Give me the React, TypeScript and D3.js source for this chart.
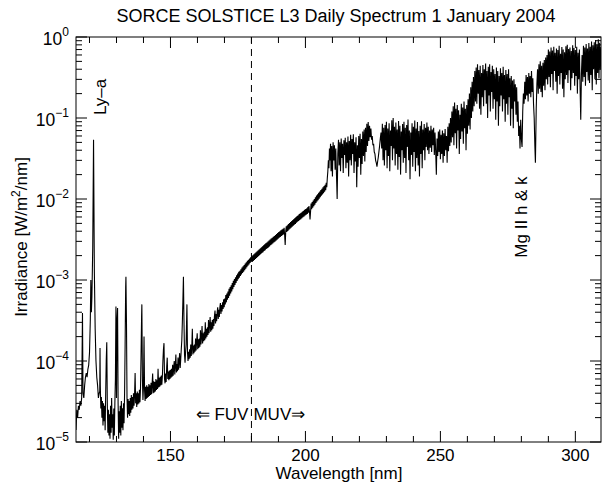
import React from "react";
import * as d3 from "d3";

const titleText = "SORCE SOLSTICE L3 Daily Spectrum 1 January 2004";
const xTicksMajor = [150, 200, 250, 300];
const yDecades = [0, -1, -2, -3, -4, -5];
const boundaryNm = 180;

// [wavelength nm, irradiance W/m^2/nm]
const lyAlphaRegion: [number, number][] = [
  [115.0, 1.41e-5], [115.3, 2.5e-5], [115.6, 2.0e-5], [115.9, 2.8e-5], [116.2, 2.5e-5], [116.5, 3.2e-5],
  [116.8, 2.8e-5], [117.1, 3.5e-5], [117.4, 3.9e-4], [117.6, 4.0e-5], [117.9, 3.5e-5], [118.2, 5.0e-5],
  [118.5, 6.3e-5], [118.8, 7.1e-5], [119.1, 6.3e-5], [119.4, 7.9e-5], [119.7, 8.9e-5], [120.0, 1.26e-4],
  [120.3, 3.2e-4], [120.5, 1.0e-3], [120.7, 4.0e-4], [120.9, 6.3e-4], [121.2, 2.5e-3], [121.5, 5.4e-2],
  [121.8, 1.26e-3], [122.1, 2.5e-4], [122.4, 1.0e-4], [122.7, 6.3e-5], [123.0, 5.0e-5], [123.3, 3.5e-5],
  [123.6, 4.0e-5], [123.8, 4.2e-5], [123.9, 1.45e-4], [124.0, 5.0e-5], [124.2, 2.6e-5], [124.4, 3.6e-5],
  [124.6, 2.0e-5], [124.8, 3.2e-5], [125.0, 1.6e-5], [125.2, 3.0e-5], [125.4, 1.8e-5], [125.6, 2.8e-5],
  [125.8, 1.4e-5], [126.0, 4.0e-5], [126.2, 1.0e-4], [126.4, 1.7e-4], [126.6, 3.0e-5], [126.8, 1.3e-5],
  [127.0, 2.5e-5], [127.2, 1.2e-5], [127.4, 2.2e-5], [127.6, 1.1e-5], [127.8, 2.8e-5], [128.0, 1.3e-5],
  [128.2, 3.5e-5], [128.4, 1.5e-5], [128.6, 2.2e-5], [128.8, 1.07e-5], [129.0, 2.6e-5], [129.2, 1.2e-5],
  [129.4, 3.0e-5], [129.6, 6.0e-5], [129.8, 4.7e-4], [130.0, 3.5e-5], [130.2, 3.2e-4], [130.4, 4.5e-4],
  [130.6, 3.0e-5], [130.8, 1.1e-5], [131.0, 2.4e-5], [131.2, 1.3e-5], [131.4, 2.8e-5], [131.6, 1.2e-5],
  [131.8, 3.2e-5], [132.0, 1.5e-5], [132.2, 2.6e-5], [132.4, 1.4e-5], [132.6, 3.0e-5], [132.8, 1.7e-5],
  [133.0, 4.0e-5], [133.2, 1.6e-4], [133.4, 8.0e-4], [133.5, 1.1e-3], [133.7, 3.0e-4], [133.9, 3.5e-5],
];

const fuvSpectrum: [number, number][] = [
  [134.1, 2.0e-5], [134.3, 3.4e-5], [134.5, 2.2e-5], [134.7, 3.2e-5], [134.9, 2.1e-5], [135.1, 3.5e-5],
  [135.3, 2.3e-5], [135.5, 3.8e-5], [135.7, 2.5e-5], [135.9, 3.6e-5], [136.1, 2.6e-5], [136.3, 4.0e-5],
  [136.5, 2.8e-5], [136.7, 3.8e-5], [136.9, 7.1e-5], [137.1, 3.0e-5], [137.3, 4.0e-5], [137.5, 2.7e-5],
  [137.7, 4.2e-5], [137.9, 2.9e-5], [138.1, 4.0e-5], [138.3, 3.0e-5], [138.5, 4.4e-5], [138.7, 3.1e-5],
  [138.9, 4.6e-5], [139.1, 1.2e-4], [139.3, 3.5e-4], [139.4, 5.0e-4], [139.6, 6.0e-5], [139.8, 3.3e-5],
  [140.0, 4.8e-5], [140.2, 2.0e-4], [140.4, 4.4e-5], [140.6, 3.2e-5], [140.8, 4.8e-5], [141.0, 3.4e-5],
  [141.2, 5.0e-5], [141.4, 3.5e-5], [141.6, 4.8e-5], [141.8, 3.6e-5], [142.0, 5.2e-5], [142.2, 3.7e-5],
  [142.4, 5.0e-5], [142.6, 3.8e-5], [142.8, 5.4e-5], [143.0, 3.9e-5], [143.2, 5.2e-5], [143.4, 7.0e-5],
  [143.6, 4.0e-5], [143.8, 5.6e-5], [144.0, 4.1e-5], [144.2, 5.5e-5], [144.4, 4.2e-5], [144.6, 6.0e-5],
  [144.8, 4.4e-5], [145.0, 5.8e-5], [145.2, 4.5e-5], [145.4, 8.0e-5], [145.6, 4.7e-5], [145.8, 6.2e-5],
  [146.0, 4.8e-5], [146.2, 6.4e-5], [146.4, 5.0e-5], [146.6, 6.6e-5], [146.8, 5.1e-5], [147.0, 6.5e-5],
  [147.2, 1.0e-4], [147.4, 1.4e-4], [147.6, 1.66e-4], [147.8, 6.0e-5], [148.0, 5.3e-5], [148.2, 7.0e-5],
  [148.4, 5.5e-5], [148.6, 8.5e-5], [148.8, 1.1e-4], [149.0, 6.0e-5], [149.2, 7.4e-5], [149.4, 5.8e-5],
  [149.6, 7.6e-5], [149.8, 6.0e-5], [150.0, 7.8e-5], [150.2, 6.2e-5], [150.4, 8.0e-5], [150.6, 6.4e-5],
  [150.8, 9.0e-5], [151.0, 6.6e-5], [151.2, 8.4e-5], [151.4, 1.0e-4], [151.6, 6.8e-5], [151.8, 8.8e-5],
  [152.0, 1.2e-4], [152.2, 7.2e-5], [152.4, 9.2e-5], [152.6, 7.5e-5], [152.8, 1.1e-4], [153.0, 7.8e-5],
  [153.2, 9.8e-5], [153.4, 1.25e-4], [153.6, 8.2e-5], [153.8, 1.05e-4], [154.0, 1.4e-4], [154.2, 1.8e-4],
  [154.4, 3.0e-4], [154.6, 5.5e-4], [154.8, 1.1e-3], [155.0, 3.2e-4], [155.2, 1.2e-4], [155.4, 9.5e-5],
  [155.6, 1.3e-4], [155.8, 1.6e-4], [156.0, 3.5e-4], [156.1, 5.0e-4], [156.3, 1.3e-4], [156.5, 1.0e-4],
  [156.7, 1.3e-4], [156.9, 1.05e-4], [157.1, 1.4e-4], [157.3, 1.1e-4], [157.5, 1.6e-4], [157.7, 1.15e-4],
  [157.9, 1.5e-4], [158.1, 2.5e-4], [158.3, 1.2e-4], [158.5, 1.55e-4], [158.7, 1.25e-4], [158.9, 1.6e-4],
  [159.1, 1.3e-4], [159.3, 1.9e-4], [159.5, 1.35e-4], [159.7, 1.75e-4], [159.9, 2.2e-4], [160.1, 1.4e-4],
  [160.3, 1.85e-4], [160.5, 1.45e-4], [160.7, 1.9e-4], [160.9, 1.5e-4], [161.1, 2.4e-4], [161.3, 1.6e-4],
  [161.5, 2.0e-4], [161.7, 2.7e-4], [161.9, 1.65e-4], [162.1, 2.2e-4], [162.3, 1.75e-4], [162.5, 2.3e-4],
  [162.7, 1.8e-4], [162.9, 3.0e-4], [163.1, 1.9e-4], [163.3, 2.5e-4], [163.5, 2.0e-4], [163.7, 2.6e-4],
  [163.9, 2.1e-4], [164.1, 3.2e-4], [164.3, 2.2e-4], [164.5, 2.8e-4], [164.7, 3.5e-4], [164.9, 2.3e-4],
  [165.1, 3.0e-4], [165.3, 2.4e-4], [165.5, 3.2e-4], [165.7, 2.5e-4], [165.9, 3.3e-4], [166.1, 2.7e-4],
  [166.3, 3.6e-4], [166.5, 4.2e-4], [166.7, 2.9e-4], [166.9, 3.8e-4], [167.1, 3.1e-4], [167.3, 4.0e-4],
  [167.5, 4.6e-4], [167.7, 3.3e-4], [167.9, 4.3e-4], [168.1, 3.5e-4], [168.3, 4.6e-4], [168.5, 5.2e-4],
  [168.7, 3.8e-4], [168.9, 4.9e-4], [169.1, 4.1e-4], [169.3, 5.3e-4], [169.5, 4.4e-4], [169.7, 5.8e-4],
  [169.9, 4.6e-4], [170.1, 5.9e-4], [170.3, 5.0e-4], [170.5, 6.5e-4], [170.7, 5.3e-4], [170.9, 6.8e-4],
  [171.1, 5.7e-4], [171.3, 7.2e-4], [171.5, 6.0e-4], [171.7, 7.8e-4], [171.9, 6.4e-4], [172.1, 8.2e-4],
  [172.3, 6.8e-4], [172.5, 8.6e-4], [172.7, 7.2e-4], [172.9, 9.2e-4], [173.1, 7.7e-4], [173.3, 9.8e-4],
  [173.5, 8.2e-4], [173.7, 1.03e-3], [173.9, 8.7e-4], [174.1, 1.08e-3], [174.3, 9.2e-4], [174.5, 1.14e-3],
  [174.7, 9.7e-4], [174.9, 1.2e-3], [175.1, 1.02e-3], [175.3, 1.26e-3], [175.5, 1.07e-3], [175.7, 1.3e-3],
  [175.9, 1.12e-3], [176.1, 1.36e-3], [176.3, 1.17e-3], [176.5, 1.42e-3], [176.7, 1.22e-3], [176.9, 1.48e-3],
  [177.1, 1.27e-3], [177.3, 1.53e-3], [177.5, 1.32e-3], [177.7, 1.6e-3], [177.9, 1.38e-3], [178.1, 1.66e-3],
  [178.3, 1.44e-3], [178.5, 1.72e-3], [178.7, 1.5e-3], [178.9, 1.78e-3], [179.1, 1.56e-3], [179.3, 1.84e-3],
  [179.5, 1.62e-3], [179.7, 1.9e-3], [179.9, 1.68e-3], [180.1, 1.96e-3], [180.3, 1.67e-3], [180.5, 2.02e-3],
  [180.7, 1.72e-3], [180.9, 2.08e-3], [181.1, 1.77e-3], [181.3, 2.14e-3], [181.5, 1.82e-3], [181.7, 2.2e-3],
  [181.9, 1.87e-3], [182.1, 2.26e-3], [182.3, 1.92e-3], [182.5, 2.33e-3], [182.7, 1.98e-3], [182.9, 2.4e-3],
  [183.1, 2.04e-3], [183.3, 2.46e-3], [183.5, 2.09e-3], [183.7, 2.53e-3], [183.9, 2.15e-3], [184.1, 2.6e-3],
  [184.3, 2.21e-3], [184.5, 2.68e-3], [184.7, 2.28e-3], [184.9, 2.75e-3], [185.1, 2.34e-3], [185.3, 2.83e-3],
  [185.5, 2.41e-3], [185.7, 2.9e-3], [185.9, 2.47e-3], [186.1, 2.98e-3], [186.3, 2.53e-3], [186.5, 3.06e-3],
  [186.7, 2.6e-3], [186.9, 3.15e-3], [187.1, 2.68e-3], [187.3, 3.24e-3], [187.5, 2.75e-3], [187.7, 3.33e-3],
  [187.9, 2.83e-3], [188.1, 3.42e-3], [188.3, 2.91e-3], [188.5, 3.5e-3], [188.7, 2.98e-3], [188.9, 3.6e-3],
  [189.1, 3.06e-3], [189.3, 3.7e-3], [189.5, 3.15e-3], [189.7, 3.8e-3], [189.9, 3.23e-3], [190.1, 3.9e-3],
  [190.3, 3.32e-3], [190.5, 4.0e-3], [190.7, 3.4e-3], [190.9, 4.1e-3], [191.1, 3.49e-3], [191.3, 4.2e-3],
  [191.5, 3.57e-3], [191.7, 4.3e-3], [191.9, 3.66e-3], [192.1, 4.4e-3], [192.3, 3.6e-3], [192.5, 2.7e-3],
  [192.7, 4.0e-3], [192.9, 4.6e-3], [193.1, 3.91e-3], [193.3, 4.75e-3], [193.5, 4.04e-3], [193.7, 4.9e-3],
  [193.9, 4.17e-3], [194.1, 5.05e-3], [194.3, 4.29e-3], [194.5, 5.2e-3], [194.7, 4.42e-3], [194.9, 5.35e-3],
  [195.1, 4.55e-3], [195.3, 5.5e-3], [195.5, 4.68e-3], [195.7, 5.65e-3], [195.9, 4.8e-3], [196.1, 5.8e-3],
  [196.3, 4.93e-3], [196.5, 6.0e-3], [196.7, 5.1e-3], [196.9, 6.15e-3], [197.1, 5.23e-3], [197.3, 6.3e-3],
  [197.5, 5.36e-3], [197.7, 6.5e-3], [197.9, 5.53e-3], [198.1, 6.65e-3], [198.3, 5.65e-3], [198.5, 6.8e-3],
  [198.7, 5.78e-3], [198.9, 7.0e-3], [199.1, 5.95e-3], [199.3, 7.15e-3], [199.5, 6.08e-3], [199.7, 7.35e-3],
  [199.9, 6.25e-3], [200.1, 7.5e-3], [200.3, 6.38e-3], [200.5, 7.7e-3], [200.7, 6.55e-3], [200.9, 7.95e-3],
  [201.1, 6.76e-3], [201.3, 8.2e-3], [201.5, 6.97e-3], [201.7, 5.6e-3], [201.9, 7.0e-3], [202.1, 8.8e-3],
  [202.3, 7.48e-3], [202.5, 9.2e-3], [202.7, 7.82e-3], [202.9, 9.6e-3], [203.1, 8.16e-3], [203.3, 1.0e-2],
  [203.5, 8.5e-3], [203.7, 1.05e-2], [203.9, 8.93e-3], [204.1, 1.1e-2], [204.3, 9.35e-3], [204.5, 1.14e-2],
  [204.7, 9.69e-3], [204.9, 1.19e-2], [205.1, 1.01e-2], [205.3, 1.24e-2], [205.5, 1.05e-2], [205.7, 1.29e-2],
  [205.9, 1.1e-2], [206.1, 1.34e-2], [206.3, 1.14e-2], [206.5, 1.39e-2], [206.7, 1.18e-2], [206.9, 1.45e-2],
  [207.1, 1.23e-2], [207.3, 1.5e-2], [207.5, 1.28e-2], [207.7, 1.58e-2], [207.9, 1.4e-2], [208.1, 1.8e-2],
  [208.3, 2.2e-2], [208.5, 3.0e-2], [208.7, 2.4e-2], [208.9, 4.2e-2], [209.1, 3.0e-2],
];

const muvSpectrum: [number, number][] = [
  [209.3, 4.8e-2], [209.5, 2.2e-2], [209.75, 4.5e-2], [210.0, 1.9e-2], [210.25, 5.0e-2], [210.5, 3.0e-2],
  [210.75, 4.6e-2], [211.0, 2.3e-2], [211.25, 4.2e-2], [211.5, 2.0e-2], [211.75, 1.0e-2], [212.0, 3.6e-2],
  [212.25, 5.4e-2], [212.5, 2.6e-2], [212.75, 5.0e-2], [213.0, 2.2e-2], [213.25, 5.6e-2], [213.5, 3.2e-2],
  [213.75, 4.8e-2], [214.0, 2.1e-2], [214.25, 5.3e-2], [214.5, 3.5e-2], [214.75, 5.7e-2], [215.0, 2.4e-2],
  [215.25, 5.0e-2], [215.5, 2.8e-2], [215.75, 5.9e-2], [216.0, 1.9e-2], [216.25, 5.2e-2], [216.5, 3.0e-2],
  [216.75, 6.2e-2], [217.0, 2.6e-2], [217.25, 5.5e-2], [217.5, 3.6e-2], [217.75, 6.3e-2], [218.0, 2.1e-2],
  [218.25, 5.0e-2], [218.5, 2.9e-2], [218.75, 5.8e-2], [219.0, 1.4e-2], [219.25, 4.6e-2], [219.5, 2.5e-2],
  [219.75, 6.0e-2], [220.0, 3.2e-2], [220.25, 6.4e-2], [220.5, 2.0e-2], [220.75, 5.5e-2], [221.0, 2.7e-2],
  [221.25, 6.8e-2], [221.5, 3.4e-2], [221.75, 7.2e-2], [222.0, 2.9e-2], [222.25, 7.6e-2], [222.5, 3.8e-2],
  [222.75, 8.5e-2], [223.0, 4.5e-2], [223.25, 8.9e-2], [223.5, 5.2e-2], [223.75, 8.0e-2], [224.0, 5.8e-2],
  [224.25, 7.4e-2], [224.5, 5.4e-2], [224.75, 6.0e-2], [225.0, 4.6e-2], [225.25, 4.8e-2], [225.5, 3.8e-2],
  [225.75, 3.6e-2], [226.0, 3.0e-2], [226.25, 2.8e-2], [226.5, 2.5e-2], [226.75, 2.9e-2], [227.0, 3.3e-2],
  [227.25, 3.9e-2], [227.5, 4.6e-2], [227.75, 5.6e-2], [228.0, 6.6e-2], [228.25, 4.2e-2], [228.5, 8.5e-2],
  [228.75, 3.0e-2], [229.0, 7.6e-2], [229.25, 2.6e-2], [229.5, 8.2e-2], [229.75, 4.0e-2], [230.0, 9.0e-2],
  [230.25, 2.4e-2], [230.5, 7.4e-2], [230.75, 3.4e-2], [231.0, 8.6e-2], [231.25, 2.2e-2], [231.5, 7.0e-2],
  [231.75, 4.5e-2], [232.0, 9.4e-2], [232.25, 3.0e-2], [232.5, 1.0e-1], [232.75, 4.2e-2], [233.0, 7.8e-2],
  [233.25, 2.6e-2], [233.5, 8.8e-2], [233.75, 3.6e-2], [234.0, 7.2e-2], [234.25, 2.3e-2], [234.5, 9.2e-2],
  [234.75, 3.3e-2], [235.0, 8.0e-2], [235.25, 2.0e-2], [235.5, 6.8e-2], [235.75, 4.0e-2], [236.0, 8.4e-2],
  [236.25, 2.8e-2], [236.5, 9.0e-2], [236.75, 3.2e-2], [237.0, 7.6e-2], [237.25, 2.1e-2], [237.5, 8.2e-2],
  [237.75, 4.4e-2], [238.0, 9.6e-2], [238.25, 3.0e-2], [238.5, 7.0e-2], [238.75, 1.75e-2], [239.0, 6.6e-2],
  [239.25, 3.5e-2], [239.5, 8.6e-2], [239.75, 2.5e-2], [240.0, 7.8e-2], [240.25, 3.8e-2], [240.5, 9.3e-2],
  [240.75, 2.2e-2], [241.0, 7.4e-2], [241.25, 3.2e-2], [241.5, 8.9e-2], [241.75, 2.6e-2], [242.0, 6.9e-2],
  [242.25, 1.9e-2], [242.5, 8.0e-2], [242.75, 3.6e-2], [243.0, 9.1e-2], [243.25, 2.4e-2], [243.5, 7.2e-2],
  [243.75, 4.0e-2], [244.0, 8.4e-2], [244.25, 3.0e-2], [244.5, 7.6e-2], [244.75, 4.4e-2], [245.0, 8.8e-2],
  [245.25, 4.0e-2], [245.5, 7.8e-2], [245.75, 3.6e-2], [246.0, 7.0e-2], [246.25, 4.3e-2], [246.5, 8.0e-2],
  [246.75, 3.8e-2], [247.0, 7.2e-2], [247.25, 4.6e-2], [247.5, 7.6e-2], [247.75, 3.5e-2], [248.0, 6.6e-2],
  [248.25, 3.9e-2], [248.5, 2.0e-2], [248.75, 5.6e-2], [249.0, 3.4e-2], [249.25, 6.8e-2], [249.5, 3.8e-2],
  [249.75, 7.2e-2], [250.0, 3.1e-2], [250.25, 6.2e-2], [250.5, 3.6e-2], [250.75, 7.0e-2], [251.0, 2.8e-2],
  [251.25, 6.5e-2], [251.5, 3.4e-2], [251.75, 7.3e-2], [252.0, 4.0e-2], [252.25, 6.0e-2], [252.5, 2.8e-2],
  [252.75, 7.8e-2], [253.0, 3.9e-2], [253.25, 8.6e-2], [253.5, 4.5e-2], [253.75, 1.0e-1], [254.0, 5.0e-2],
  [254.25, 1.2e-1], [254.5, 5.8e-2], [254.75, 1.4e-1], [255.0, 4.6e-2], [255.25, 1.55e-1], [255.5, 6.5e-2],
  [255.75, 1.3e-1], [256.0, 4.2e-2], [256.25, 1.45e-1], [256.5, 7.0e-2], [256.75, 1.25e-1], [257.0, 3.6e-2],
  [257.25, 1.1e-1], [257.5, 5.5e-2], [257.75, 1.5e-1], [258.0, 6.8e-2], [258.25, 1.35e-1], [258.5, 4.8e-2],
  [258.75, 1.6e-1], [259.0, 7.5e-2], [259.25, 1.3e-1], [259.5, 4.0e-2], [259.75, 1.45e-1], [260.0, 6.4e-2],
  [260.25, 1.7e-1], [260.5, 8.0e-2], [260.75, 2.0e-1], [261.0, 7.2e-2], [261.25, 2.4e-1], [261.5, 1.0e-1],
  [261.75, 2.8e-1], [262.0, 1.2e-1], [262.25, 3.2e-1], [262.5, 1.4e-1], [262.75, 3.8e-1], [263.0, 1.6e-1],
  [263.25, 4.2e-1], [263.5, 1.5e-1], [263.75, 4.6e-1], [264.0, 2.0e-1], [264.25, 3.9e-1], [264.5, 1.3e-1],
  [264.75, 4.4e-1], [265.0, 1.1e-1], [265.25, 3.6e-1], [265.5, 1.8e-1], [265.75, 4.5e-1], [266.0, 1.4e-1],
  [266.25, 4.0e-1], [266.5, 2.2e-1], [266.75, 4.7e-1], [267.0, 1.5e-1], [267.25, 3.8e-1], [267.5, 1.0e-1],
  [267.75, 4.3e-1], [268.0, 1.9e-1], [268.25, 4.6e-1], [268.5, 1.2e-1], [268.75, 3.7e-1], [269.0, 2.1e-1],
  [269.25, 4.4e-1], [269.5, 1.3e-1], [269.75, 4.0e-1], [270.0, 1.7e-1], [270.25, 3.5e-1], [270.5, 9.5e-2],
  [270.75, 4.2e-1], [271.0, 1.6e-1], [271.25, 3.8e-1], [271.5, 8.0e-2], [271.75, 3.3e-1], [272.0, 1.4e-1],
  [272.25, 4.1e-1], [272.5, 1.9e-1], [272.75, 3.6e-1], [273.0, 1.2e-1], [273.25, 4.3e-1], [273.5, 1.7e-1],
  [273.75, 3.4e-1], [274.0, 9.0e-2], [274.25, 3.9e-1], [274.5, 1.5e-1], [274.75, 3.5e-1], [275.0, 1.1e-1],
  [275.25, 4.0e-1], [275.5, 1.8e-1], [275.75, 3.1e-1], [276.0, 8.0e-2], [276.25, 3.3e-1], [276.5, 1.3e-1],
  [276.75, 2.9e-1], [277.0, 7.5e-2], [277.25, 3.0e-1], [277.5, 1.6e-1], [277.75, 2.6e-1], [278.0, 1.1e-1],
  [278.25, 2.4e-1], [278.5, 9.0e-2], [278.75, 1.6e-1], [279.0, 6.0e-2], [279.25, 8.0e-2], [279.5, 4.2e-2],
  [279.75, 9.5e-2], [280.0, 5.5e-2], [280.25, 4.4e-2], [280.5, 1.2e-1], [280.75, 2.0e-1], [281.0, 1.5e-1],
  [281.25, 2.8e-1], [281.5, 1.7e-1], [281.75, 3.4e-1], [282.0, 1.9e-1], [282.25, 3.2e-1], [282.5, 1.6e-1],
  [282.75, 3.6e-1], [283.0, 2.0e-1], [283.25, 3.3e-1], [283.5, 1.8e-1], [283.75, 3.8e-1], [284.0, 2.1e-1],
  [284.25, 3.1e-1], [284.5, 1.5e-1], [284.75, 1.0e-1], [285.0, 4.5e-2], [285.2, 2.8e-2], [285.5, 1.3e-1],
  [285.75, 2.6e-1], [286.0, 4.0e-1], [286.25, 2.0e-1], [286.5, 4.6e-1], [286.75, 2.3e-1], [287.0, 5.0e-1],
  [287.25, 2.1e-1], [287.5, 4.4e-1], [287.75, 1.8e-1], [288.0, 4.8e-1], [288.25, 2.5e-1], [288.5, 5.2e-1],
  [288.75, 2.2e-1], [289.0, 5.6e-1], [289.25, 3.0e-1], [289.5, 6.0e-1], [289.75, 2.6e-1], [290.0, 7.0e-1],
  [290.25, 3.2e-1], [290.5, 6.6e-1], [290.75, 2.4e-1], [291.0, 7.4e-1], [291.25, 3.5e-1], [291.5, 6.8e-1],
  [291.75, 2.2e-1], [292.0, 7.6e-1], [292.25, 3.8e-1], [292.5, 6.4e-1], [292.75, 2.8e-1], [293.0, 7.2e-1],
  [293.25, 2.0e-1], [293.5, 6.9e-1], [293.75, 3.3e-1], [294.0, 7.8e-1], [294.25, 2.6e-1], [294.5, 6.2e-1],
  [294.75, 3.6e-1], [295.0, 7.5e-1], [295.25, 2.3e-1], [295.5, 7.0e-1], [295.75, 1.8e-1], [296.0, 6.5e-1],
  [296.25, 3.0e-1], [296.5, 7.7e-1], [296.75, 3.4e-1], [297.0, 8.0e-1], [297.25, 2.7e-1], [297.5, 7.1e-1],
  [297.75, 3.9e-1], [298.0, 7.4e-1], [298.25, 2.2e-1], [298.5, 6.7e-1], [298.75, 3.1e-1], [299.0, 7.9e-1],
  [299.25, 3.6e-1], [299.5, 7.3e-1], [299.75, 2.5e-1], [300.0, 6.9e-1], [300.25, 3.3e-1], [300.5, 7.6e-1],
  [300.75, 2.0e-1], [301.0, 6.4e-1], [301.25, 3.0e-1], [301.5, 7.0e-1], [301.75, 2.4e-1], [302.0, 9.5e-2],
  [302.25, 3.5e-1], [302.5, 6.0e-1], [302.75, 2.8e-1], [303.0, 7.8e-1], [303.25, 3.2e-1], [303.5, 7.4e-1],
  [303.75, 2.5e-1], [304.0, 8.2e-1], [304.25, 3.7e-1], [304.5, 7.2e-1], [304.75, 2.9e-1], [305.0, 8.4e-1],
  [305.25, 2.7e-1], [305.5, 7.6e-1], [305.75, 3.4e-1], [306.0, 8.8e-1], [306.25, 2.2e-1], [306.5, 7.9e-1],
  [306.75, 4.0e-1], [307.0, 8.6e-1], [307.25, 3.0e-1], [307.5, 9.2e-1], [307.75, 2.6e-1], [308.0, 8.0e-1],
  [308.25, 3.6e-1], [308.5, 9.4e-1], [308.75, 3.1e-1], [309.0, 8.5e-1], [309.25, 4.0e-1], [309.5, 7.5e-1],
];

const FONT = "'Liberation Sans', Arial, Helvetica, sans-serif";

export default function App() {
  const W = 605, H = 484;
  const left = 76, right = 601, top = 37, bottom = 442;
  const x = d3.scaleLinear().domain([115, 309.5]).range([left, right]);
  const y = d3.scaleLog().domain([1e-5, 1]).range([bottom, top]);
  const data = [...lyAlphaRegion, ...fuvSpectrum, ...muvSpectrum];
  const line = d3.line<[number, number]>().x(d => x(d[0])).y(d => y(d[1]));

  const xMinor = d3.range(120, 310, 10).filter(v => !xTicksMajor.includes(v));
  const yMinor: number[] = [];
  yDecades.forEach(e => { if (e < 0) for (let k = 2; k <= 9; k++) yMinor.push(k * Math.pow(10, e)); });

  const majorLen = 11, minorLen = 6;
  const stroke = "#000";

  return (
    <svg width={W} height={H} style={{ position: "absolute", left: 0, top: 0, background: "#fff" }} fontFamily={FONT}>
      <rect x={0} y={0} width={W} height={H} fill="#fff" />
      <defs>
        <clipPath id="plotclip">
          <rect x={left} y={top} width={right - left} height={bottom - top} />
        </clipPath>
      </defs>
      <text x={336} y={22} textAnchor="middle" fontSize={18}>{titleText}</text>

      <g clipPath="url(#plotclip)">
        <path d={line(data) || ""} fill="none" stroke={stroke} strokeWidth={1.1} strokeLinejoin="miter" />
      </g>
      <line x1={x(boundaryNm)} x2={x(boundaryNm)} y1={top} y2={bottom} stroke={stroke} strokeWidth={1} strokeDasharray="7,5" />

      <rect x={left} y={top} width={right - left} height={bottom - top} fill="none" stroke={stroke} strokeWidth={1} />

      {xTicksMajor.map(v => (
        <g key={"xM" + v}>
          <line x1={x(v)} x2={x(v)} y1={bottom} y2={bottom - majorLen} stroke={stroke} />
          <line x1={x(v)} x2={x(v)} y1={top} y2={top + majorLen} stroke={stroke} />
          <text x={x(v)} y={bottom + 19} textAnchor="middle" fontSize={17}>{v}</text>
        </g>
      ))}
      {xMinor.map(v => (
        <g key={"xm" + v}>
          <line x1={x(v)} x2={x(v)} y1={bottom} y2={bottom - minorLen} stroke={stroke} />
          <line x1={x(v)} x2={x(v)} y1={top} y2={top + minorLen} stroke={stroke} />
        </g>
      ))}

      {yDecades.map(e => {
        const yy = y(Math.pow(10, e));
        const expStr = e === 0 ? "0" : "\u2212" + Math.abs(e);
        return (
          <g key={"yM" + e}>
            <line x1={left} x2={left + majorLen} y1={yy} y2={yy} stroke={stroke} />
            <line x1={right} x2={right - majorLen} y1={yy} y2={yy} stroke={stroke} />
            <text x={69} y={yy + 8} textAnchor="end" fontSize={17.5}>
              10<tspan fontSize={12} dy={-9}>{expStr}</tspan>
            </text>
          </g>
        );
      })}
      {yMinor.map((v, i) => (
        <g key={"ym" + i}>
          <line x1={left} x2={left + minorLen} y1={y(v)} y2={y(v)} stroke={stroke} />
          <line x1={right} x2={right - minorLen} y1={y(v)} y2={y(v)} stroke={stroke} />
        </g>
      ))}

      <text x={339} y={479} textAnchor="middle" fontSize={17}>Wavelength [nm]</text>
      <text transform={`translate(27,237) rotate(-90)`} textAnchor="middle" fontSize={17}>
        Irradiance [W/m<tspan fontSize={12} dy={-7}>2</tspan><tspan dy={7}>/nm]</tspan>
      </text>

      <text transform={`translate(106,97) rotate(-90)`} textAnchor="middle" fontSize={17}>Ly–a</text>
      <text transform={`translate(527,217) rotate(-90)`} textAnchor="middle" fontSize={17}>Mg II h &amp; k</text>
      <text x={x(boundaryNm) - 3} y={420} textAnchor="end" fontSize={17}>⇐ FUV</text>
      <text x={x(boundaryNm) + 2} y={420} textAnchor="start" fontSize={17}>MUV⇒</text>
    </svg>
  );
}
